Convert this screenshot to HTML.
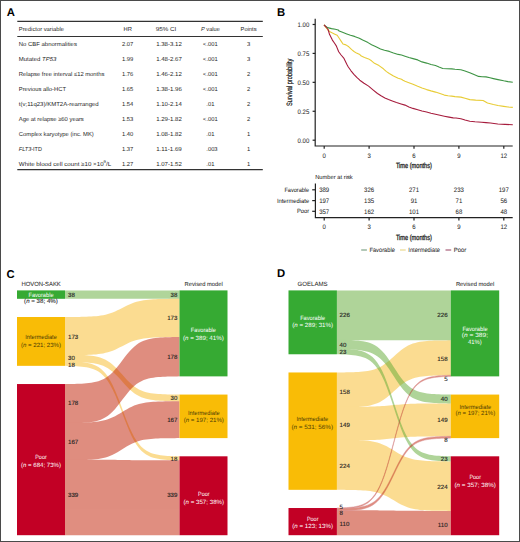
<!DOCTYPE html>
<html><head><meta charset="utf-8"><title>Figure</title>
<style>
html,body{margin:0;padding:0;background:#fff;}
body{width:520px;height:542px;overflow:hidden;position:relative;font-family:"Liberation Sans", sans-serif;}
svg{position:absolute;left:0;top:0;display:block;}
svg text{font-family:"Liberation Sans", sans-serif;text-rendering:geometricPrecision;}
.frame{position:absolute;left:0;top:0;width:518px;height:540px;border:1px solid #4a4a4a;border-right-width:1.3px;border-bottom-width:1.4px;box-sizing:content-box;}
</style></head>
<body>
<svg width="520" height="542" viewBox="0 0 520 542">
<text x="6.7" y="15.5" font-size="11.3" text-anchor="start" fill="#000" font-weight="bold">A</text>
<text x="277.0" y="15.7" font-size="11.3" text-anchor="start" fill="#000" font-weight="bold">B</text>
<text x="6.4" y="277.6" font-size="11.3" text-anchor="start" fill="#000" font-weight="bold">C</text>
<text x="277.1" y="277.4" font-size="11.3" text-anchor="start" fill="#000" font-weight="bold">D</text>
<g stroke="#333" stroke-width="1.1">
<line x1="17.3" y1="21.4" x2="262.8" y2="21.4"/>
<line x1="17.3" y1="36.5" x2="262.8" y2="36.5"/>
<line x1="17.3" y1="169.6" x2="262.8" y2="169.6"/>
</g>
<text x="18.8" y="30.7" font-size="5.8" text-anchor="start" fill="#262626" textLength="45.3" lengthAdjust="spacingAndGlyphs">Predictor variable</text>
<text x="127.7" y="30.7" font-size="5.8" text-anchor="middle" fill="#262626">HR</text>
<text x="155.8" y="30.7" font-size="5.8" text-anchor="start" fill="#262626" textLength="20.5" lengthAdjust="spacingAndGlyphs">95% CI</text>
<text x="200.9" y="30.7" font-size="5.8" text-anchor="start" fill="#262626" textLength="19" lengthAdjust="spacingAndGlyphs"><tspan font-style="italic">P</tspan> value</text>
<text x="248.6" y="30.7" font-size="5.8" text-anchor="middle" fill="#262626" textLength="16" lengthAdjust="spacingAndGlyphs">Points</text>
<text x="18.8" y="45.6" font-size="5.8" text-anchor="start" fill="#262626" textLength="58.1" lengthAdjust="spacingAndGlyphs">No CBF abnormalities</text>
<text x="127.6" y="45.6" font-size="5.8" text-anchor="middle" fill="#262626">2.07</text>
<text x="156.2" y="45.6" font-size="5.8" text-anchor="start" fill="#262626" textLength="25.6" lengthAdjust="spacingAndGlyphs">1.38-3.12</text>
<text x="203.1128" y="45.6" font-size="5.8" text-anchor="start" fill="#262626">&lt;.001</text>
<text x="248.5" y="45.6" font-size="5.8" text-anchor="middle" fill="#262626">3</text>
<text x="18.8" y="60.6" font-size="5.8" text-anchor="start" fill="#262626" textLength="37.5" lengthAdjust="spacingAndGlyphs">Mutated <tspan font-style="italic">TP53</tspan></text>
<text x="127.6" y="60.6" font-size="5.8" text-anchor="middle" fill="#262626">1.99</text>
<text x="156.2" y="60.6" font-size="5.8" text-anchor="start" fill="#262626" textLength="25.6" lengthAdjust="spacingAndGlyphs">1.48-2.67</text>
<text x="203.1128" y="60.6" font-size="5.8" text-anchor="start" fill="#262626">&lt;.001</text>
<text x="248.5" y="60.6" font-size="5.8" text-anchor="middle" fill="#262626">3</text>
<text x="18.8" y="75.6" font-size="5.8" text-anchor="start" fill="#262626" textLength="85.6" lengthAdjust="spacingAndGlyphs">Relapse free interval &#8804;12 months</text>
<text x="127.6" y="75.6" font-size="5.8" text-anchor="middle" fill="#262626">1.76</text>
<text x="156.2" y="75.6" font-size="5.8" text-anchor="start" fill="#262626" textLength="25.6" lengthAdjust="spacingAndGlyphs">1.46-2.12</text>
<text x="203.1128" y="75.6" font-size="5.8" text-anchor="start" fill="#262626">&lt;.001</text>
<text x="248.5" y="75.6" font-size="5.8" text-anchor="middle" fill="#262626">2</text>
<text x="18.8" y="90.6" font-size="5.8" text-anchor="start" fill="#262626" textLength="47.2" lengthAdjust="spacingAndGlyphs">Previous allo-HCT</text>
<text x="127.6" y="90.6" font-size="5.8" text-anchor="middle" fill="#262626">1.65</text>
<text x="156.2" y="90.6" font-size="5.8" text-anchor="start" fill="#262626" textLength="25.6" lengthAdjust="spacingAndGlyphs">1.38-1.96</text>
<text x="203.1128" y="90.6" font-size="5.8" text-anchor="start" fill="#262626">&lt;.001</text>
<text x="248.5" y="90.6" font-size="5.8" text-anchor="middle" fill="#262626">2</text>
<text x="18.8" y="105.6" font-size="5.8" text-anchor="start" fill="#262626" textLength="79.9" lengthAdjust="spacingAndGlyphs">t(v;11q23)/KMT2A-rearranged</text>
<text x="127.6" y="105.6" font-size="5.8" text-anchor="middle" fill="#262626">1.54</text>
<text x="156.2" y="105.6" font-size="5.8" text-anchor="start" fill="#262626" textLength="25.6" lengthAdjust="spacingAndGlyphs">1.10-2.14</text>
<text x="206.3" y="105.6" font-size="5.8" text-anchor="start" fill="#262626">.01</text>
<text x="248.5" y="105.6" font-size="5.8" text-anchor="middle" fill="#262626">2</text>
<text x="18.8" y="120.6" font-size="5.8" text-anchor="start" fill="#262626" textLength="65" lengthAdjust="spacingAndGlyphs">Age at relapse &#8805;60 years</text>
<text x="127.6" y="120.6" font-size="5.8" text-anchor="middle" fill="#262626">1.53</text>
<text x="156.2" y="120.6" font-size="5.8" text-anchor="start" fill="#262626" textLength="25.6" lengthAdjust="spacingAndGlyphs">1.29-1.82</text>
<text x="203.1128" y="120.6" font-size="5.8" text-anchor="start" fill="#262626">&lt;.001</text>
<text x="248.5" y="120.6" font-size="5.8" text-anchor="middle" fill="#262626">2</text>
<text x="18.8" y="135.6" font-size="5.8" text-anchor="start" fill="#262626" textLength="75" lengthAdjust="spacingAndGlyphs">Complex karyotype (inc. MK)</text>
<text x="127.6" y="135.6" font-size="5.8" text-anchor="middle" fill="#262626">1.40</text>
<text x="156.2" y="135.6" font-size="5.8" text-anchor="start" fill="#262626" textLength="25.6" lengthAdjust="spacingAndGlyphs">1.08-1.82</text>
<text x="206.3" y="135.6" font-size="5.8" text-anchor="start" fill="#262626">.01</text>
<text x="248.5" y="135.6" font-size="5.8" text-anchor="middle" fill="#262626">1</text>
<text x="18.8" y="150.6" font-size="5.8" text-anchor="start" fill="#262626" textLength="23.1" lengthAdjust="spacingAndGlyphs"><tspan font-style="italic">FLT3</tspan>-ITD</text>
<text x="127.6" y="150.6" font-size="5.8" text-anchor="middle" fill="#262626">1.37</text>
<text x="156.2" y="150.6" font-size="5.8" text-anchor="start" fill="#262626" textLength="25.6" lengthAdjust="spacingAndGlyphs">1.11-1.69</text>
<text x="206.3" y="150.6" font-size="5.8" text-anchor="start" fill="#262626">.003</text>
<text x="248.5" y="150.6" font-size="5.8" text-anchor="middle" fill="#262626">1</text>
<text x="18.8" y="165.6" font-size="5.8" text-anchor="start" fill="#262626" textLength="92.4" lengthAdjust="spacingAndGlyphs">White blood cell count &#8805;10 &#215;10<tspan font-size="4" dy="-2.2">9</tspan><tspan dy="2.2">/L</tspan></text>
<text x="127.6" y="165.6" font-size="5.8" text-anchor="middle" fill="#262626">1.27</text>
<text x="156.2" y="165.6" font-size="5.8" text-anchor="start" fill="#262626" textLength="25.6" lengthAdjust="spacingAndGlyphs">1.07-1.52</text>
<text x="206.3" y="165.6" font-size="5.8" text-anchor="start" fill="#262626">.01</text>
<text x="248.5" y="165.6" font-size="5.8" text-anchor="middle" fill="#262626">1</text>
<g stroke="#222" stroke-width="1.2" fill="none">
<polyline points="315.2,18.8 315.2,146 512.7,146"/>
<line x1="312.6" y1="140.20" x2="315.2" y2="140.20"/>
<line x1="312.6" y1="111.27" x2="315.2" y2="111.27"/>
<line x1="312.6" y1="82.34" x2="315.2" y2="82.34"/>
<line x1="312.6" y1="53.41" x2="315.2" y2="53.41"/>
<line x1="312.6" y1="24.48" x2="315.2" y2="24.48"/>
<line x1="324.20" y1="146" x2="324.20" y2="148.8"/>
<line x1="369.10" y1="146" x2="369.10" y2="148.8"/>
<line x1="414.00" y1="146" x2="414.00" y2="148.8"/>
<line x1="458.90" y1="146" x2="458.90" y2="148.8"/>
<line x1="503.80" y1="146" x2="503.80" y2="148.8"/>
</g>
<text x="309.3" y="142.5" font-size="6.5" text-anchor="end" fill="#262626" textLength="11.76" lengthAdjust="spacingAndGlyphs" stroke="#262626" stroke-width="0.04">0.00</text>
<text x="309.3" y="113.56999999999998" font-size="6.5" text-anchor="end" fill="#262626" textLength="11.76" lengthAdjust="spacingAndGlyphs" stroke="#262626" stroke-width="0.04">0.25</text>
<text x="309.3" y="84.63999999999999" font-size="6.5" text-anchor="end" fill="#262626" textLength="11.76" lengthAdjust="spacingAndGlyphs" stroke="#262626" stroke-width="0.04">0.50</text>
<text x="309.3" y="55.709999999999994" font-size="6.5" text-anchor="end" fill="#262626" textLength="11.76" lengthAdjust="spacingAndGlyphs" stroke="#262626" stroke-width="0.04">0.75</text>
<text x="309.3" y="26.77999999999999" font-size="6.5" text-anchor="end" fill="#262626" textLength="11.76" lengthAdjust="spacingAndGlyphs" stroke="#262626" stroke-width="0.04">1.00</text>
<text x="324.2" y="157.8" font-size="6.5" text-anchor="middle" fill="#262626" textLength="3.36" lengthAdjust="spacingAndGlyphs" stroke="#262626" stroke-width="0.04">0</text>
<text x="369.09999999999997" y="157.8" font-size="6.5" text-anchor="middle" fill="#262626" textLength="3.36" lengthAdjust="spacingAndGlyphs" stroke="#262626" stroke-width="0.04">3</text>
<text x="414.0" y="157.8" font-size="6.5" text-anchor="middle" fill="#262626" textLength="3.36" lengthAdjust="spacingAndGlyphs" stroke="#262626" stroke-width="0.04">6</text>
<text x="458.9" y="157.8" font-size="6.5" text-anchor="middle" fill="#262626" textLength="3.36" lengthAdjust="spacingAndGlyphs" stroke="#262626" stroke-width="0.04">9</text>
<text x="503.79999999999995" y="157.8" font-size="6.5" text-anchor="middle" fill="#262626" textLength="6.72" lengthAdjust="spacingAndGlyphs" stroke="#262626" stroke-width="0.04">12</text>
<text x="0" y="0" font-size="7.7" fill="#1a1a1a" stroke="#1a1a1a" stroke-width="0.25" text-anchor="middle" textLength="47.2" lengthAdjust="spacingAndGlyphs" transform="translate(292.0 82.3) rotate(-90)">Survival probability</text>
<text x="413.9" y="168.1" font-size="7.5" text-anchor="middle" fill="#1a1a1a" textLength="36.0" lengthAdjust="spacingAndGlyphs" stroke="#1a1a1a" stroke-width="0.3">Time (months)</text>
<polyline points="324,24.9 327.6,27.6 331.5,28.6 335.3,29.3 338.2,30 339.2,31 342.5,32.3 346.8,33.9 350.5,35.2 354.5,36.4 359.3,38.2 362.7,40.1 368,42.6 371.6,44.8 376,46.8 380.5,48.9 384.5,50.3 389.3,51.4 393.5,52.9 398.2,54.4 401.5,55.0 405,56.2 408.9,57.5 413,58.6 417.7,59.9 422,61.9 426.6,63.1 431,64.5 435.5,65.5 439,67 442.8,68.5 447,68.8 451.7,68.9 455,69.3 460.9,69.8 465,71 469.8,72.7 474,74.5 478.6,76.4 482,76.7 486,76.9 490,77.8 493.4,78.6 498,79.6 503.7,80.8 508,81.6 512.8,82.3" fill="none" stroke="#3e9444" stroke-width="1.1" stroke-linejoin="round"/>
<polyline points="324,24.9 325.5,27 327.5,29.5 329.5,31.5 332,32.8 334.3,33.9 337.2,35.3 339.2,38.2 341.1,41.1 343,44 345.9,44.9 348.8,46.8 351.7,49.6 354,51.5 356.5,53.1 359.8,54.6 361.3,56 364.5,57.5 368.6,58.9 371.5,60.8 374.5,63.3 379,65.6 383.4,68.8 386.5,71.6 389.3,73.5 393.5,76 398.2,78.2 401.5,79.2 403,80.3 405,81.3 408.9,82.7 413,84.2 417.7,86.2 422,87.9 426.6,89.6 431,90.9 435.5,92.1 440,93.6 444.3,95.1 448,95.7 451.7,96.1 455,96.6 460.9,97.1 465,98.3 469.8,99.6 475.7,100.1 483.1,100.5 487.5,103 493.4,104.5 498,105.5 503.7,106.4 508,107 512.8,107.4" fill="none" stroke="#e8cc36" stroke-width="1.1" stroke-linejoin="round"/>
<polyline points="324,24.9 326,27 328.1,29.5 329.5,34.3 331,37.2 332.4,40.1 334.4,43 336.3,45.9 338.7,51.7 341.1,55 344,58.4 346.8,64.2 348.3,67 351,70.8 353.9,74.3 356.8,77.4 359.8,80.2 364,83.3 368.6,86.1 373,89.8 377.5,93.5 381,95.8 384.9,97.9 388.5,99.5 392.3,100.9 396.5,102.4 401.1,103.9 405,105.1 408.9,106.9 413,108.4 417.7,109.8 422,111 426.6,112 431,113.2 435.5,114.3 440,115.3 444.3,116.2 449,117.1 453.2,117.9 456,118 460.9,118.8 465,120 469.8,121.2 475,121.8 481.6,122.2 486,122.6 490.5,123 494,123.5 497.8,124 505,124.4 512.8,124.7" fill="none" stroke="#a61c3d" stroke-width="1.1" stroke-linejoin="round"/>
<text x="315.2" y="178.8" font-size="5.8" text-anchor="start" fill="#262626" textLength="37.5" lengthAdjust="spacingAndGlyphs" stroke="#262626" stroke-width="0.04">Number at risk</text>
<g stroke="#222" stroke-width="1.2" fill="none">
<polyline points="315.4,183.5 315.4,217.7 512.7,217.7"/>
<line x1="312.2" y1="189.8" x2="315.4" y2="189.8"/>
<line x1="312.2" y1="200.6" x2="315.4" y2="200.6"/>
<line x1="312.2" y1="211.3" x2="315.4" y2="211.3"/>
<line x1="324.20" y1="217.7" x2="324.20" y2="220.6"/>
<line x1="369.10" y1="217.7" x2="369.10" y2="220.6"/>
<line x1="414.00" y1="217.7" x2="414.00" y2="220.6"/>
<line x1="458.90" y1="217.7" x2="458.90" y2="220.6"/>
<line x1="503.80" y1="217.7" x2="503.80" y2="220.6"/>
</g>
<text x="309.2" y="191.9" font-size="6.2" text-anchor="end" fill="#262626" textLength="24.8" lengthAdjust="spacingAndGlyphs" stroke="#262626" stroke-width="0.04">Favorable</text>
<text x="309.2" y="202.7" font-size="6.2" text-anchor="end" fill="#262626" textLength="32.3" lengthAdjust="spacingAndGlyphs" stroke="#262626" stroke-width="0.04">Intermediate</text>
<text x="309.2" y="213.4" font-size="6.2" text-anchor="end" fill="#262626" textLength="12.3" lengthAdjust="spacingAndGlyphs" stroke="#262626" stroke-width="0.04">Poor</text>
<text x="324.2" y="192.20000000000002" font-size="6.5" text-anchor="middle" fill="#262626" textLength="10.08" lengthAdjust="spacingAndGlyphs" stroke="#262626" stroke-width="0.04">389</text>
<text x="369.09999999999997" y="192.20000000000002" font-size="6.5" text-anchor="middle" fill="#262626" textLength="10.08" lengthAdjust="spacingAndGlyphs" stroke="#262626" stroke-width="0.04">326</text>
<text x="414.0" y="192.20000000000002" font-size="6.5" text-anchor="middle" fill="#262626" textLength="10.08" lengthAdjust="spacingAndGlyphs" stroke="#262626" stroke-width="0.04">271</text>
<text x="458.9" y="192.20000000000002" font-size="6.5" text-anchor="middle" fill="#262626" textLength="10.08" lengthAdjust="spacingAndGlyphs" stroke="#262626" stroke-width="0.04">233</text>
<text x="503.79999999999995" y="192.20000000000002" font-size="6.5" text-anchor="middle" fill="#262626" textLength="10.08" lengthAdjust="spacingAndGlyphs" stroke="#262626" stroke-width="0.04">197</text>
<text x="324.2" y="203.0" font-size="6.5" text-anchor="middle" fill="#262626" textLength="10.08" lengthAdjust="spacingAndGlyphs" stroke="#262626" stroke-width="0.04">197</text>
<text x="369.09999999999997" y="203.0" font-size="6.5" text-anchor="middle" fill="#262626" textLength="10.08" lengthAdjust="spacingAndGlyphs" stroke="#262626" stroke-width="0.04">135</text>
<text x="414.0" y="203.0" font-size="6.5" text-anchor="middle" fill="#262626" textLength="6.72" lengthAdjust="spacingAndGlyphs" stroke="#262626" stroke-width="0.04">91</text>
<text x="458.9" y="203.0" font-size="6.5" text-anchor="middle" fill="#262626" textLength="6.72" lengthAdjust="spacingAndGlyphs" stroke="#262626" stroke-width="0.04">71</text>
<text x="503.79999999999995" y="203.0" font-size="6.5" text-anchor="middle" fill="#262626" textLength="6.72" lengthAdjust="spacingAndGlyphs" stroke="#262626" stroke-width="0.04">56</text>
<text x="324.2" y="213.70000000000002" font-size="6.5" text-anchor="middle" fill="#262626" textLength="10.08" lengthAdjust="spacingAndGlyphs" stroke="#262626" stroke-width="0.04">357</text>
<text x="369.09999999999997" y="213.70000000000002" font-size="6.5" text-anchor="middle" fill="#262626" textLength="10.08" lengthAdjust="spacingAndGlyphs" stroke="#262626" stroke-width="0.04">162</text>
<text x="414.0" y="213.70000000000002" font-size="6.5" text-anchor="middle" fill="#262626" textLength="10.08" lengthAdjust="spacingAndGlyphs" stroke="#262626" stroke-width="0.04">101</text>
<text x="458.9" y="213.70000000000002" font-size="6.5" text-anchor="middle" fill="#262626" textLength="6.72" lengthAdjust="spacingAndGlyphs" stroke="#262626" stroke-width="0.04">68</text>
<text x="503.79999999999995" y="213.70000000000002" font-size="6.5" text-anchor="middle" fill="#262626" textLength="6.72" lengthAdjust="spacingAndGlyphs" stroke="#262626" stroke-width="0.04">48</text>
<text x="324.2" y="229.1" font-size="6.5" text-anchor="middle" fill="#262626" textLength="3.36" lengthAdjust="spacingAndGlyphs" stroke="#262626" stroke-width="0.04">0</text>
<text x="369.09999999999997" y="229.1" font-size="6.5" text-anchor="middle" fill="#262626" textLength="3.36" lengthAdjust="spacingAndGlyphs" stroke="#262626" stroke-width="0.04">3</text>
<text x="414.0" y="229.1" font-size="6.5" text-anchor="middle" fill="#262626" textLength="3.36" lengthAdjust="spacingAndGlyphs" stroke="#262626" stroke-width="0.04">6</text>
<text x="458.9" y="229.1" font-size="6.5" text-anchor="middle" fill="#262626" textLength="3.36" lengthAdjust="spacingAndGlyphs" stroke="#262626" stroke-width="0.04">9</text>
<text x="503.79999999999995" y="229.1" font-size="6.5" text-anchor="middle" fill="#262626" textLength="6.72" lengthAdjust="spacingAndGlyphs" stroke="#262626" stroke-width="0.04">12</text>
<text x="413.9" y="240.0" font-size="7.5" text-anchor="middle" fill="#1a1a1a" textLength="36.0" lengthAdjust="spacingAndGlyphs" stroke="#1a1a1a" stroke-width="0.3">Time (months)</text>
<line x1="361.2" y1="250.0" x2="366.9" y2="250.0" stroke="#7fa488" stroke-width="1.2"/>
<text x="369.4" y="251.8" font-size="6.3" text-anchor="start" fill="#262626" textLength="25.5" lengthAdjust="spacingAndGlyphs" stroke="#262626" stroke-width="0.04">Favorable</text>
<line x1="400.0" y1="250.0" x2="405.7" y2="250.0" stroke="#ead98e" stroke-width="1.2"/>
<text x="408.3" y="251.8" font-size="6.3" text-anchor="start" fill="#262626" textLength="31.7" lengthAdjust="spacingAndGlyphs" stroke="#262626" stroke-width="0.04">Intermediate</text>
<line x1="445.5" y1="250.0" x2="451.2" y2="250.0" stroke="#a8607a" stroke-width="1.2"/>
<text x="453.8" y="251.8" font-size="6.3" text-anchor="start" fill="#262626" textLength="12.5" lengthAdjust="spacingAndGlyphs" stroke="#262626" stroke-width="0.04">Poor</text>
<g opacity="0.5">
<path d="M65.00,290.40 L67.39,290.40 L69.77,290.40 L72.16,290.40 L74.54,290.40 L76.93,290.40 L79.31,290.40 L81.70,290.40 L84.08,290.40 L86.47,290.40 L88.85,290.40 L91.24,290.40 L93.62,290.40 L96.01,290.40 L98.40,290.40 L100.78,290.40 L103.17,290.40 L105.55,290.40 L107.94,290.40 L110.32,290.40 L112.71,290.40 L115.09,290.40 L117.48,290.40 L119.86,290.40 L122.25,290.40 L124.64,290.40 L127.02,290.40 L129.41,290.40 L131.79,290.40 L134.18,290.40 L136.56,290.40 L138.95,290.40 L141.33,290.40 L143.72,290.40 L146.10,290.40 L148.49,290.40 L150.88,290.40 L153.26,290.40 L155.65,290.40 L158.03,290.40 L160.42,290.40 L162.80,290.40 L165.19,290.40 L167.57,290.40 L169.96,290.40 L172.34,290.40 L174.73,290.40 L177.11,290.40 L179.50,290.40 L179.50,298.80 L177.11,298.80 L174.73,298.80 L172.34,298.80 L169.96,298.80 L167.57,298.80 L165.19,298.80 L162.80,298.80 L160.42,298.80 L158.03,298.80 L155.65,298.80 L153.26,298.80 L150.88,298.80 L148.49,298.80 L146.10,298.80 L143.72,298.80 L141.33,298.80 L138.95,298.80 L136.56,298.80 L134.18,298.80 L131.79,298.80 L129.41,298.80 L127.02,298.80 L124.64,298.80 L122.25,298.80 L119.86,298.80 L117.48,298.80 L115.09,298.80 L112.71,298.80 L110.32,298.80 L107.94,298.80 L105.55,298.80 L103.17,298.80 L100.78,298.80 L98.40,298.80 L96.01,298.80 L93.62,298.80 L91.24,298.80 L88.85,298.80 L86.47,298.80 L84.08,298.80 L81.70,298.80 L79.31,298.80 L76.93,298.80 L74.54,298.80 L72.16,298.80 L69.77,298.80 L67.39,298.80 L65.00,298.80 Z" fill="rgb(97,171,53)"/>
</g>
<g opacity="0.5">
<path d="M65.00,317.00 L67.39,316.99 L69.77,316.98 L72.16,316.96 L74.54,316.94 L76.93,316.92 L79.31,316.89 L81.70,316.84 L84.08,316.79 L86.47,316.72 L88.85,316.62 L91.24,316.50 L93.62,316.34 L96.01,316.14 L98.40,315.88 L100.78,315.56 L103.17,315.15 L105.55,314.64 L107.94,314.02 L110.32,313.28 L112.71,312.41 L115.09,311.41 L117.48,310.31 L119.86,309.13 L122.25,307.90 L124.64,306.67 L127.02,305.48 L129.41,304.38 L131.79,303.39 L134.18,302.52 L136.56,301.77 L138.95,301.15 L141.33,300.65 L143.72,300.24 L146.10,299.91 L148.49,299.65 L150.88,299.45 L153.26,299.29 L155.65,299.17 L158.03,299.08 L160.42,299.01 L162.80,298.95 L165.19,298.91 L167.57,298.88 L169.96,298.85 L172.34,298.83 L174.73,298.82 L177.11,298.81 L179.50,298.80 L179.50,337.03 L177.11,337.04 L174.73,337.05 L172.34,337.07 L169.96,337.08 L167.57,337.11 L165.19,337.14 L162.80,337.18 L160.42,337.24 L158.03,337.31 L155.65,337.41 L153.26,337.53 L150.88,337.68 L148.49,337.89 L146.10,338.14 L143.72,338.47 L141.33,338.88 L138.95,339.39 L136.56,340.01 L134.18,340.75 L131.79,341.62 L129.41,342.61 L127.02,343.72 L124.64,344.90 L122.25,346.13 L119.86,347.36 L117.48,348.54 L115.09,349.65 L112.71,350.64 L110.32,351.51 L107.94,352.26 L105.55,352.87 L103.17,353.38 L100.78,353.79 L98.40,354.12 L96.01,354.38 L93.62,354.58 L91.24,354.73 L88.85,354.86 L86.47,354.95 L84.08,355.02 L81.70,355.08 L79.31,355.12 L76.93,355.15 L74.54,355.18 L72.16,355.20 L69.77,355.21 L67.39,355.22 L65.00,355.23 Z" fill="rgb(249,187,37)"/>
<path d="M65.00,354.63 L67.39,354.65 L69.77,354.67 L72.16,354.71 L74.54,354.75 L76.93,354.80 L79.31,354.87 L81.70,354.97 L84.08,355.09 L86.47,355.25 L88.85,355.45 L91.24,355.72 L93.62,356.07 L96.01,356.51 L98.40,357.07 L100.78,357.79 L103.17,358.69 L105.55,359.80 L107.94,361.16 L110.32,362.79 L112.71,364.70 L115.09,366.88 L117.48,369.30 L119.86,371.90 L122.25,374.60 L124.64,377.30 L127.02,379.90 L129.41,382.32 L131.79,384.50 L134.18,386.41 L136.56,388.04 L138.95,389.40 L141.33,390.51 L143.72,391.41 L146.10,392.13 L148.49,392.69 L150.88,393.13 L153.26,393.48 L155.65,393.75 L158.03,393.95 L160.42,394.11 L162.80,394.23 L165.19,394.33 L167.57,394.40 L169.96,394.45 L172.34,394.49 L174.73,394.53 L177.11,394.55 L179.50,394.57 L179.50,401.20 L177.11,401.18 L174.73,401.16 L172.34,401.13 L169.96,401.08 L167.57,401.03 L165.19,400.96 L162.80,400.87 L160.42,400.75 L158.03,400.59 L155.65,400.39 L153.26,400.12 L150.88,399.79 L148.49,399.35 L146.10,398.79 L143.72,398.09 L141.33,397.20 L138.95,396.11 L136.56,394.77 L134.18,393.16 L131.79,391.28 L129.41,389.13 L127.02,386.75 L124.64,384.19 L122.25,381.53 L119.86,378.87 L117.48,376.31 L115.09,373.93 L112.71,371.78 L110.32,369.90 L107.94,368.29 L105.55,366.95 L103.17,365.86 L100.78,364.97 L98.40,364.27 L96.01,363.71 L93.62,363.27 L91.24,362.94 L88.85,362.67 L86.47,362.47 L84.08,362.31 L81.70,362.19 L79.31,362.10 L76.93,362.03 L74.54,361.98 L72.16,361.93 L69.77,361.90 L67.39,361.88 L65.00,361.86 Z" fill="rgb(249,187,37)"/>
<path d="M65.00,361.26 L67.39,361.31 L69.77,361.36 L72.16,361.44 L74.54,361.54 L76.93,361.67 L79.31,361.84 L81.70,362.06 L84.08,362.35 L86.47,362.73 L88.85,363.22 L91.24,363.86 L93.62,364.68 L96.01,365.73 L98.40,367.07 L100.78,368.78 L103.17,370.92 L105.55,373.57 L107.94,376.80 L110.32,380.68 L112.71,385.22 L115.09,390.42 L117.48,396.18 L119.86,402.37 L122.25,408.78 L124.64,415.20 L127.02,421.39 L129.41,427.15 L131.79,432.34 L134.18,436.89 L136.56,440.77 L138.95,444.00 L141.33,446.65 L143.72,448.79 L146.10,450.49 L148.49,451.84 L150.88,452.89 L153.26,453.71 L155.65,454.35 L158.03,454.84 L160.42,455.21 L162.80,455.50 L165.19,455.73 L167.57,455.90 L169.96,456.03 L172.34,456.13 L174.73,456.20 L177.11,456.26 L179.50,456.31 L179.50,460.28 L177.11,460.24 L174.73,460.18 L172.34,460.11 L169.96,460.01 L167.57,459.88 L165.19,459.71 L162.80,459.49 L160.42,459.20 L158.03,458.82 L155.65,458.34 L153.26,457.71 L150.88,456.89 L148.49,455.84 L146.10,454.51 L143.72,452.81 L141.33,450.69 L138.95,448.06 L136.56,444.84 L134.18,440.99 L131.79,436.47 L129.41,431.31 L127.02,425.58 L124.64,419.44 L122.25,413.06 L119.86,406.69 L117.48,400.54 L115.09,394.81 L112.71,389.65 L110.32,385.13 L107.94,381.28 L105.55,378.07 L103.17,375.43 L100.78,373.31 L98.40,371.62 L96.01,370.28 L93.62,369.23 L91.24,368.42 L88.85,367.79 L86.47,367.30 L84.08,366.92 L81.70,366.64 L79.31,366.41 L76.93,366.25 L74.54,366.12 L72.16,366.02 L69.77,365.94 L67.39,365.88 L65.00,365.84 Z" fill="rgb(249,187,37)"/>
</g>
<g opacity="0.5">
<path d="M65.00,384.04 L67.39,384.02 L69.77,383.99 L72.16,383.95 L74.54,383.90 L76.93,383.84 L79.31,383.75 L81.70,383.64 L84.08,383.50 L86.47,383.31 L88.85,383.07 L91.24,382.76 L93.62,382.35 L96.01,381.83 L98.40,381.16 L100.78,380.32 L103.17,379.26 L105.55,377.95 L107.94,376.35 L110.32,374.44 L112.71,372.19 L115.09,369.62 L117.48,366.77 L119.86,363.71 L122.25,360.53 L124.64,357.36 L127.02,354.30 L129.41,351.45 L131.79,348.88 L134.18,346.63 L136.56,344.72 L138.95,343.12 L141.33,341.81 L143.72,340.75 L146.10,339.91 L148.49,339.24 L150.88,338.72 L153.26,338.31 L155.65,338.00 L158.03,337.76 L160.42,337.57 L162.80,337.43 L165.19,337.32 L167.57,337.23 L169.96,337.17 L172.34,337.12 L174.73,337.08 L177.11,337.05 L179.50,337.03 L179.50,376.37 L177.11,376.39 L174.73,376.42 L172.34,376.46 L169.96,376.51 L167.57,376.57 L165.19,376.66 L162.80,376.77 L160.42,376.91 L158.03,377.10 L155.65,377.34 L153.26,377.65 L150.88,378.06 L148.49,378.58 L146.10,379.24 L143.72,380.09 L141.33,381.14 L138.95,382.46 L136.56,384.06 L134.18,385.97 L131.79,388.22 L129.41,390.79 L127.02,393.64 L124.64,396.70 L122.25,399.87 L119.86,403.05 L117.48,406.11 L115.09,408.96 L112.71,411.52 L110.32,413.77 L107.94,415.69 L105.55,417.29 L103.17,418.60 L100.78,419.66 L98.40,420.50 L96.01,421.17 L93.62,421.69 L91.24,422.09 L88.85,422.41 L86.47,422.65 L84.08,422.84 L81.70,422.98 L79.31,423.09 L76.93,423.17 L74.54,423.24 L72.16,423.29 L69.77,423.33 L67.39,423.36 L65.00,423.38 Z" fill="rgb(193,29,1)"/>
<path d="M65.00,422.78 L67.39,422.77 L69.77,422.75 L72.16,422.74 L74.54,422.71 L76.93,422.68 L79.31,422.65 L81.70,422.59 L84.08,422.53 L86.47,422.44 L88.85,422.33 L91.24,422.19 L93.62,422.00 L96.01,421.76 L98.40,421.46 L100.78,421.07 L103.17,420.58 L105.55,419.98 L107.94,419.25 L110.32,418.37 L112.71,417.34 L115.09,416.16 L117.48,414.85 L119.86,413.44 L122.25,411.99 L124.64,410.53 L127.02,409.13 L129.41,407.82 L131.79,406.64 L134.18,405.61 L136.56,404.73 L138.95,403.99 L141.33,403.39 L143.72,402.91 L146.10,402.52 L148.49,402.21 L150.88,401.97 L153.26,401.79 L155.65,401.64 L158.03,401.53 L160.42,401.45 L162.80,401.38 L165.19,401.33 L167.57,401.29 L169.96,401.26 L172.34,401.24 L174.73,401.22 L177.11,401.21 L179.50,401.20 L179.50,438.11 L177.11,438.12 L174.73,438.13 L172.34,438.15 L169.96,438.17 L167.57,438.20 L165.19,438.24 L162.80,438.29 L160.42,438.36 L158.03,438.45 L155.65,438.56 L153.26,438.71 L150.88,438.90 L148.49,439.15 L146.10,439.46 L143.72,439.86 L141.33,440.36 L138.95,440.98 L136.56,441.73 L134.18,442.64 L131.79,443.70 L129.41,444.91 L127.02,446.25 L124.64,447.70 L122.25,449.19 L119.86,450.69 L117.48,452.14 L115.09,453.48 L112.71,454.69 L110.32,455.75 L107.94,456.66 L105.55,457.41 L103.17,458.03 L100.78,458.53 L98.40,458.93 L96.01,459.24 L93.62,459.49 L91.24,459.68 L88.85,459.83 L86.47,459.94 L84.08,460.03 L81.70,460.10 L79.31,460.15 L76.93,460.19 L74.54,460.22 L72.16,460.24 L69.77,460.26 L67.39,460.27 L65.00,460.28 Z" fill="rgb(193,29,1)"/>
<path d="M65.00,459.68 L67.39,459.68 L69.77,459.68 L72.16,459.69 L74.54,459.69 L76.93,459.69 L79.31,459.69 L81.70,459.69 L84.08,459.69 L86.47,459.69 L88.85,459.70 L91.24,459.70 L93.62,459.71 L96.01,459.71 L98.40,459.72 L100.78,459.73 L103.17,459.74 L105.55,459.76 L107.94,459.78 L110.32,459.81 L112.71,459.84 L115.09,459.87 L117.48,459.90 L119.86,459.94 L122.25,459.98 L124.64,460.02 L127.02,460.06 L129.41,460.10 L131.79,460.13 L134.18,460.16 L136.56,460.19 L138.95,460.21 L141.33,460.22 L143.72,460.24 L146.10,460.25 L148.49,460.26 L150.88,460.26 L153.26,460.27 L155.65,460.27 L158.03,460.27 L160.42,460.28 L162.80,460.28 L165.19,460.28 L167.57,460.28 L169.96,460.28 L172.34,460.28 L174.73,460.28 L177.11,460.28 L179.50,460.28 L179.50,535.20 L177.11,535.20 L174.73,535.20 L172.34,535.20 L169.96,535.20 L167.57,535.20 L165.19,535.20 L162.80,535.20 L160.42,535.20 L158.03,535.20 L155.65,535.20 L153.26,535.20 L150.88,535.20 L148.49,535.20 L146.10,535.20 L143.72,535.20 L141.33,535.20 L138.95,535.20 L136.56,535.20 L134.18,535.20 L131.79,535.20 L129.41,535.20 L127.02,535.20 L124.64,535.20 L122.25,535.20 L119.86,535.20 L117.48,535.20 L115.09,535.20 L112.71,535.20 L110.32,535.20 L107.94,535.20 L105.55,535.20 L103.17,535.20 L100.78,535.20 L98.40,535.20 L96.01,535.20 L93.62,535.20 L91.24,535.20 L88.85,535.20 L86.47,535.20 L84.08,535.20 L81.70,535.20 L79.31,535.20 L76.93,535.20 L74.54,535.20 L72.16,535.20 L69.77,535.20 L67.39,535.20 L65.00,535.20 Z" fill="rgb(193,29,1)"/>
</g>
<rect x="17" y="290.40" width="48" height="8.40" fill="#36aa33"/>
<rect x="17" y="317.00" width="48" height="48.84" fill="#f9bc06"/>
<rect x="17" y="384.04" width="48" height="151.16" fill="#c20025"/>
<rect x="179.5" y="290.40" width="48.0" height="85.97" fill="#36aa33"/>
<rect x="179.5" y="394.57" width="48.0" height="43.54" fill="#f9bc06"/>
<rect x="179.5" y="456.31" width="48.0" height="78.90" fill="#c20025"/>
<text x="21.4" y="285.7" font-size="6.0" text-anchor="start" fill="#262626" textLength="39.4" lengthAdjust="spacingAndGlyphs" stroke="#262626" stroke-width="0.04">HOVON-SAKK</text>
<text x="184.6" y="285.7" font-size="5.9" text-anchor="start" fill="#262626" textLength="38.2" lengthAdjust="spacingAndGlyphs" stroke="#262626" stroke-width="0.04">Revised model</text>
<text x="68.0" y="296.95000000000005" font-size="6.15" text-anchor="start" fill="#1e1e1e" stroke="#1e1e1e" stroke-width="0.12">38</text>
<text x="68.0" y="339.25" font-size="6.15" text-anchor="start" fill="#1e1e1e" stroke="#1e1e1e" stroke-width="0.12">173</text>
<text x="68.0" y="360.15000000000003" font-size="6.15" text-anchor="start" fill="#1e1e1e" stroke="#1e1e1e" stroke-width="0.12">30</text>
<text x="68.0" y="366.75" font-size="6.15" text-anchor="start" fill="#1e1e1e" stroke="#1e1e1e" stroke-width="0.12">18</text>
<text x="68.0" y="405.25" font-size="6.15" text-anchor="start" fill="#1e1e1e" stroke="#1e1e1e" stroke-width="0.12">178</text>
<text x="68.0" y="444.45000000000005" font-size="6.15" text-anchor="start" fill="#1e1e1e" stroke="#1e1e1e" stroke-width="0.12">167</text>
<text x="68.0" y="496.95000000000005" font-size="6.15" text-anchor="start" fill="#1e1e1e" stroke="#1e1e1e" stroke-width="0.12">339</text>
<text x="177.4" y="296.55" font-size="6.15" text-anchor="end" fill="#1e1e1e" stroke="#1e1e1e" stroke-width="0.12">38</text>
<text x="177.4" y="320.35" font-size="6.15" text-anchor="end" fill="#1e1e1e" stroke="#1e1e1e" stroke-width="0.12">173</text>
<text x="177.4" y="359.15000000000003" font-size="6.15" text-anchor="end" fill="#1e1e1e" stroke="#1e1e1e" stroke-width="0.12">178</text>
<text x="177.4" y="400.25" font-size="6.15" text-anchor="end" fill="#1e1e1e" stroke="#1e1e1e" stroke-width="0.12">30</text>
<text x="177.4" y="421.85" font-size="6.15" text-anchor="end" fill="#1e1e1e" stroke="#1e1e1e" stroke-width="0.12">167</text>
<text x="177.4" y="460.65000000000003" font-size="6.15" text-anchor="end" fill="#1e1e1e" stroke="#1e1e1e" stroke-width="0.12">18</text>
<text x="177.4" y="497.15000000000003" font-size="6.15" text-anchor="end" fill="#1e1e1e" stroke="#1e1e1e" stroke-width="0.12">339</text>
<text x="41" y="296.7" font-size="6.1" text-anchor="middle" fill="#fff" textLength="25.1" lengthAdjust="spacingAndGlyphs">Favorable</text>
<text x="41" y="303.3" font-size="6.1" text-anchor="middle" fill="#333" textLength="33.8" lengthAdjust="spacingAndGlyphs" stroke="#333" stroke-width="0.12">(<tspan font-style="italic">n</tspan> = 38; 4%)</text>
<text x="41" y="338.9" font-size="6.1" text-anchor="middle" fill="#4f3c05" textLength="31.7" lengthAdjust="spacingAndGlyphs">Intermediate</text>
<text x="41" y="346.7" font-size="6.1" text-anchor="middle" fill="#4f3c05" textLength="40.2" lengthAdjust="spacingAndGlyphs">(<tspan font-style="italic">n</tspan> = 221; 23%)</text>
<text x="41" y="458.8" font-size="6.1" text-anchor="middle" fill="#fff" textLength="11.6" lengthAdjust="spacingAndGlyphs">Poor</text>
<text x="41" y="466.9" font-size="6.1" text-anchor="middle" fill="#fff" textLength="40.2" lengthAdjust="spacingAndGlyphs">(<tspan font-style="italic">n</tspan> = 684; 73%)</text>
<text x="203.4" y="332.1" font-size="6.1" text-anchor="middle" fill="#fff" textLength="25.1" lengthAdjust="spacingAndGlyphs">Favorable</text>
<text x="203.4" y="339.8" font-size="6.1" text-anchor="middle" fill="#fff" textLength="41.0" lengthAdjust="spacingAndGlyphs">(<tspan font-style="italic">n</tspan> = 389; 41%)</text>
<text x="203.8" y="415.0" font-size="6.1" text-anchor="middle" fill="#4f3c05" textLength="31.7" lengthAdjust="spacingAndGlyphs">Intermediate</text>
<text x="203.8" y="421.8" font-size="6.1" text-anchor="middle" fill="#4f3c05" textLength="40.1" lengthAdjust="spacingAndGlyphs">(<tspan font-style="italic">n</tspan> = 197; 21%)</text>
<text x="203.8" y="495.7" font-size="6.1" text-anchor="middle" fill="#fff" textLength="11.6" lengthAdjust="spacingAndGlyphs">Poor</text>
<text x="203.8" y="504.2" font-size="6.1" text-anchor="middle" fill="#fff" textLength="40.7" lengthAdjust="spacingAndGlyphs">(<tspan font-style="italic">n</tspan> = 357; 38%)</text>
<g opacity="0.5">
<path d="M336.90,372.47 L339.27,372.45 L341.65,372.43 L344.02,372.41 L346.39,372.37 L348.76,372.33 L351.14,372.27 L353.51,372.20 L355.88,372.10 L358.26,371.97 L360.63,371.81 L363.00,371.59 L365.38,371.31 L367.75,370.96 L370.12,370.50 L372.49,369.93 L374.87,369.21 L377.24,368.31 L379.61,367.22 L381.99,365.91 L384.36,364.37 L386.73,362.61 L389.10,360.67 L391.48,358.58 L393.85,356.41 L396.22,354.24 L398.60,352.15 L400.97,350.20 L403.34,348.45 L405.71,346.91 L408.09,345.60 L410.46,344.50 L412.83,343.61 L415.21,342.89 L417.58,342.31 L419.95,341.86 L422.32,341.50 L424.70,341.22 L427.07,341.01 L429.44,340.84 L431.82,340.71 L434.19,340.62 L436.56,340.54 L438.94,340.48 L441.31,340.44 L443.68,340.41 L446.05,340.38 L448.43,340.36 L450.80,340.35 L450.80,375.26 L448.43,375.28 L446.05,375.30 L443.68,375.32 L441.31,375.36 L438.94,375.40 L436.56,375.46 L434.19,375.53 L431.82,375.63 L429.44,375.76 L427.07,375.93 L424.70,376.14 L422.32,376.42 L419.95,376.77 L417.58,377.23 L415.21,377.80 L412.83,378.53 L410.46,379.42 L408.09,380.52 L405.71,381.83 L403.34,383.36 L400.97,385.12 L398.60,387.07 L396.22,389.16 L393.85,391.33 L391.48,393.49 L389.10,395.58 L386.73,397.53 L384.36,399.29 L381.99,400.82 L379.61,402.13 L377.24,403.23 L374.87,404.12 L372.49,404.85 L370.12,405.42 L367.75,405.88 L365.38,406.23 L363.00,406.51 L360.63,406.72 L358.26,406.89 L355.88,407.02 L353.51,407.12 L351.14,407.19 L348.76,407.25 L346.39,407.29 L344.02,407.33 L341.65,407.35 L339.27,407.37 L336.90,407.39 Z" fill="rgb(249,187,37)"/>
<path d="M336.90,406.79 L339.27,406.79 L341.65,406.78 L344.02,406.78 L346.39,406.78 L348.76,406.77 L351.14,406.77 L353.51,406.76 L355.88,406.75 L358.26,406.73 L360.63,406.72 L363.00,406.69 L365.38,406.67 L367.75,406.63 L370.12,406.58 L372.49,406.52 L374.87,406.44 L377.24,406.35 L379.61,406.23 L381.99,406.10 L384.36,405.94 L386.73,405.75 L389.10,405.55 L391.48,405.33 L393.85,405.10 L396.22,404.87 L398.60,404.65 L400.97,404.45 L403.34,404.26 L405.71,404.10 L408.09,403.96 L410.46,403.85 L412.83,403.75 L415.21,403.68 L417.58,403.62 L419.95,403.57 L422.32,403.53 L424.70,403.50 L427.07,403.48 L429.44,403.46 L431.82,403.45 L434.19,403.44 L436.56,403.43 L438.94,403.42 L441.31,403.42 L443.68,403.42 L446.05,403.41 L448.43,403.41 L450.80,403.41 L450.80,436.34 L448.43,436.34 L446.05,436.34 L443.68,436.35 L441.31,436.35 L438.94,436.36 L436.56,436.36 L434.19,436.37 L431.82,436.38 L429.44,436.40 L427.07,436.42 L424.70,436.45 L422.32,436.48 L419.95,436.53 L417.58,436.58 L415.21,436.65 L412.83,436.74 L410.46,436.85 L408.09,436.99 L405.71,437.15 L403.34,437.34 L400.97,437.56 L398.60,437.80 L396.22,438.06 L393.85,438.33 L391.48,438.60 L389.10,438.85 L386.73,439.10 L384.36,439.31 L381.99,439.50 L379.61,439.67 L377.24,439.80 L374.87,439.91 L372.49,440.00 L370.12,440.07 L367.75,440.13 L365.38,440.17 L363.00,440.21 L360.63,440.23 L358.26,440.25 L355.88,440.27 L353.51,440.28 L351.14,440.29 L348.76,440.30 L346.39,440.30 L344.02,440.31 L341.65,440.31 L339.27,440.31 L336.90,440.32 Z" fill="rgb(249,187,37)"/>
<path d="M336.90,439.72 L339.27,439.73 L341.65,439.74 L344.02,439.76 L346.39,439.78 L348.76,439.81 L351.14,439.85 L353.51,439.90 L355.88,439.96 L358.26,440.05 L360.63,440.16 L363.00,440.31 L365.38,440.49 L367.75,440.73 L370.12,441.04 L372.49,441.43 L374.87,441.92 L377.24,442.52 L379.61,443.26 L381.99,444.14 L384.36,445.18 L386.73,446.36 L389.10,447.68 L391.48,449.09 L393.85,450.55 L396.22,452.02 L398.60,453.43 L400.97,454.74 L403.34,455.92 L405.71,456.96 L408.09,457.85 L410.46,458.58 L412.83,459.19 L415.21,459.67 L417.58,460.06 L419.95,460.37 L422.32,460.61 L424.70,460.80 L427.07,460.94 L429.44,461.05 L431.82,461.14 L434.19,461.21 L436.56,461.26 L438.94,461.30 L441.31,461.33 L443.68,461.35 L446.05,461.37 L448.43,461.38 L450.80,461.39 L450.80,510.89 L448.43,510.88 L446.05,510.87 L443.68,510.85 L441.31,510.83 L438.94,510.80 L436.56,510.76 L434.19,510.72 L431.82,510.65 L429.44,510.57 L427.07,510.46 L424.70,510.32 L422.32,510.14 L419.95,509.90 L417.58,509.60 L415.21,509.23 L412.83,508.75 L410.46,508.16 L408.09,507.45 L405.71,506.59 L403.34,505.58 L400.97,504.43 L398.60,503.15 L396.22,501.78 L393.85,500.36 L391.48,498.93 L389.10,497.56 L386.73,496.28 L384.36,495.13 L381.99,494.13 L379.61,493.27 L377.24,492.55 L374.87,491.96 L372.49,491.49 L370.12,491.11 L367.75,490.81 L365.38,490.58 L363.00,490.40 L360.63,490.25 L358.26,490.15 L355.88,490.06 L353.51,490.00 L351.14,489.95 L348.76,489.91 L346.39,489.88 L344.02,489.86 L341.65,489.84 L339.27,489.83 L336.90,489.82 Z" fill="rgb(249,187,37)"/>
</g>
<g opacity="0.5">
<path d="M336.90,290.40 L339.27,290.40 L341.65,290.40 L344.02,290.40 L346.39,290.40 L348.76,290.40 L351.14,290.40 L353.51,290.40 L355.88,290.40 L358.26,290.40 L360.63,290.40 L363.00,290.40 L365.38,290.40 L367.75,290.40 L370.12,290.40 L372.49,290.40 L374.87,290.40 L377.24,290.40 L379.61,290.40 L381.99,290.40 L384.36,290.40 L386.73,290.40 L389.10,290.40 L391.48,290.40 L393.85,290.40 L396.22,290.40 L398.60,290.40 L400.97,290.40 L403.34,290.40 L405.71,290.40 L408.09,290.40 L410.46,290.40 L412.83,290.40 L415.21,290.40 L417.58,290.40 L419.95,290.40 L422.32,290.40 L424.70,290.40 L427.07,290.40 L429.44,290.40 L431.82,290.40 L434.19,290.40 L436.56,290.40 L438.94,290.40 L441.31,290.40 L443.68,290.40 L446.05,290.40 L448.43,290.40 L450.80,290.40 L450.80,340.35 L448.43,340.35 L446.05,340.35 L443.68,340.35 L441.31,340.35 L438.94,340.35 L436.56,340.35 L434.19,340.35 L431.82,340.35 L429.44,340.35 L427.07,340.35 L424.70,340.35 L422.32,340.35 L419.95,340.35 L417.58,340.35 L415.21,340.35 L412.83,340.35 L410.46,340.35 L408.09,340.35 L405.71,340.35 L403.34,340.35 L400.97,340.35 L398.60,340.35 L396.22,340.35 L393.85,340.35 L391.48,340.35 L389.10,340.35 L386.73,340.35 L384.36,340.35 L381.99,340.35 L379.61,340.35 L377.24,340.35 L374.87,340.35 L372.49,340.35 L370.12,340.35 L367.75,340.35 L365.38,340.35 L363.00,340.35 L360.63,340.35 L358.26,340.35 L355.88,340.35 L353.51,340.35 L351.14,340.35 L348.76,340.35 L346.39,340.35 L344.02,340.35 L341.65,340.35 L339.27,340.35 L336.90,340.35 Z" fill="rgb(97,171,53)"/>
<path d="M336.90,339.75 L339.27,339.77 L341.65,339.81 L344.02,339.85 L346.39,339.91 L348.76,339.98 L351.14,340.08 L353.51,340.21 L355.88,340.38 L358.26,340.59 L360.63,340.88 L363.00,341.24 L365.38,341.72 L367.75,342.32 L370.12,343.10 L372.49,344.08 L374.87,345.32 L377.24,346.84 L379.61,348.71 L381.99,350.95 L384.36,353.57 L386.73,356.56 L389.10,359.89 L391.48,363.46 L393.85,367.16 L396.22,370.86 L398.60,374.43 L400.97,377.75 L403.34,380.75 L405.71,383.37 L408.09,385.61 L410.46,387.47 L412.83,389.00 L415.21,390.23 L417.58,391.22 L419.95,391.99 L422.32,392.60 L424.70,393.07 L427.07,393.44 L429.44,393.72 L431.82,393.94 L434.19,394.11 L436.56,394.23 L438.94,394.33 L441.31,394.41 L443.68,394.47 L446.05,394.51 L448.43,394.54 L450.80,394.57 L450.80,403.41 L448.43,403.38 L446.05,403.35 L443.68,403.31 L441.31,403.25 L438.94,403.18 L436.56,403.08 L434.19,402.95 L431.82,402.79 L429.44,402.57 L427.07,402.29 L424.70,401.93 L422.32,401.46 L419.95,400.86 L417.58,400.09 L415.21,399.12 L412.83,397.90 L410.46,396.39 L408.09,394.54 L405.71,392.33 L403.34,389.74 L400.97,386.77 L398.60,383.49 L396.22,379.96 L393.85,376.30 L391.48,372.64 L389.10,369.11 L386.73,365.82 L384.36,362.86 L381.99,360.26 L379.61,358.05 L377.24,356.21 L374.87,354.69 L372.49,353.47 L370.12,352.50 L367.75,351.74 L365.38,351.13 L363.00,350.67 L360.63,350.30 L358.26,350.02 L355.88,349.81 L353.51,349.64 L351.14,349.52 L348.76,349.42 L346.39,349.34 L344.02,349.29 L341.65,349.24 L339.27,349.21 L336.90,349.19 Z" fill="rgb(97,171,53)"/>
<path d="M336.90,348.59 L339.27,348.64 L341.65,348.70 L344.02,348.79 L346.39,348.90 L348.76,349.05 L351.14,349.24 L353.51,349.49 L355.88,349.82 L358.26,350.25 L360.63,350.81 L363.00,351.53 L365.38,352.46 L367.75,353.65 L370.12,355.17 L372.49,357.11 L374.87,359.53 L377.24,362.53 L379.61,366.20 L381.99,370.59 L384.36,375.75 L386.73,381.63 L389.10,388.16 L391.48,395.17 L393.85,402.45 L396.22,409.72 L398.60,416.73 L400.97,423.26 L403.34,429.15 L405.71,434.30 L408.09,438.69 L410.46,442.36 L412.83,445.36 L415.21,447.79 L417.58,449.72 L419.95,451.24 L422.32,452.44 L424.70,453.36 L427.07,454.08 L429.44,454.64 L431.82,455.07 L434.19,455.40 L436.56,455.65 L438.94,455.84 L441.31,455.99 L443.68,456.10 L446.05,456.19 L448.43,456.26 L450.80,456.31 L450.80,461.39 L448.43,461.34 L446.05,461.27 L443.68,461.19 L441.31,461.08 L438.94,460.93 L436.56,460.74 L434.19,460.49 L431.82,460.16 L429.44,459.73 L427.07,459.18 L424.70,458.46 L422.32,457.54 L419.95,456.35 L417.58,454.84 L415.21,452.92 L412.83,450.51 L410.46,447.52 L408.09,443.87 L405.71,439.50 L403.34,434.38 L400.97,428.53 L398.60,422.03 L396.22,415.06 L393.85,407.83 L391.48,400.60 L389.10,393.63 L386.73,387.13 L384.36,381.28 L381.99,376.15 L379.61,371.78 L377.24,368.14 L374.87,365.15 L372.49,362.74 L370.12,360.82 L367.75,359.31 L365.38,358.12 L363.00,357.19 L360.63,356.48 L358.26,355.93 L355.88,355.50 L353.51,355.17 L351.14,354.92 L348.76,354.73 L346.39,354.58 L344.02,354.47 L341.65,354.38 L339.27,354.32 L336.90,354.27 Z" fill="rgb(97,171,53)"/>
</g>
<g opacity="0.5">
<path d="M336.90,510.29 L339.27,510.29 L341.65,510.29 L344.02,510.29 L346.39,510.29 L348.76,510.30 L351.14,510.30 L353.51,510.30 L355.88,510.30 L358.26,510.30 L360.63,510.31 L363.00,510.31 L365.38,510.31 L367.75,510.32 L370.12,510.33 L372.49,510.34 L374.87,510.35 L377.24,510.37 L379.61,510.39 L381.99,510.42 L384.36,510.44 L386.73,510.48 L389.10,510.51 L391.48,510.55 L393.85,510.59 L396.22,510.63 L398.60,510.67 L400.97,510.71 L403.34,510.74 L405.71,510.77 L408.09,510.79 L410.46,510.82 L412.83,510.83 L415.21,510.85 L417.58,510.86 L419.95,510.86 L422.32,510.87 L424.70,510.88 L427.07,510.88 L429.44,510.88 L431.82,510.89 L434.19,510.89 L436.56,510.89 L438.94,510.89 L441.31,510.89 L443.68,510.89 L446.05,510.89 L448.43,510.89 L450.80,510.89 L450.80,535.20 L448.43,535.20 L446.05,535.20 L443.68,535.20 L441.31,535.20 L438.94,535.20 L436.56,535.20 L434.19,535.20 L431.82,535.20 L429.44,535.20 L427.07,535.20 L424.70,535.20 L422.32,535.20 L419.95,535.20 L417.58,535.20 L415.21,535.20 L412.83,535.20 L410.46,535.20 L408.09,535.20 L405.71,535.20 L403.34,535.20 L400.97,535.20 L398.60,535.20 L396.22,535.20 L393.85,535.20 L391.48,535.20 L389.10,535.20 L386.73,535.20 L384.36,535.20 L381.99,535.20 L379.61,535.20 L377.24,535.20 L374.87,535.20 L372.49,535.20 L370.12,535.20 L367.75,535.20 L365.38,535.20 L363.00,535.20 L360.63,535.20 L358.26,535.20 L355.88,535.20 L353.51,535.20 L351.14,535.20 L348.76,535.20 L346.39,535.20 L344.02,535.20 L341.65,535.20 L339.27,535.20 L336.90,535.20 Z" fill="rgb(193,29,1)"/>
<path d="M336.90,508.02 L339.27,507.96 L341.65,507.88 L344.02,507.77 L346.39,507.63 L348.76,507.45 L351.14,507.21 L353.51,506.90 L355.88,506.50 L358.26,505.97 L360.63,505.28 L363.00,504.39 L365.38,503.25 L367.75,501.78 L370.12,499.90 L372.49,497.52 L374.87,494.53 L377.24,490.83 L379.61,486.31 L381.99,480.90 L384.36,474.55 L386.73,467.29 L389.10,459.25 L391.48,450.60 L393.85,441.64 L396.22,432.68 L398.60,424.04 L400.97,415.99 L403.34,408.74 L405.71,402.39 L408.09,396.97 L410.46,392.45 L412.83,388.75 L415.21,385.76 L417.58,383.38 L419.95,381.51 L422.32,380.03 L424.70,378.89 L427.07,378.00 L429.44,377.32 L431.82,376.79 L434.19,376.38 L436.56,376.07 L438.94,375.84 L441.31,375.65 L443.68,375.51 L446.05,375.41 L448.43,375.33 L450.80,375.26 L450.80,376.37 L448.43,376.43 L446.05,376.51 L443.68,376.62 L441.31,376.76 L438.94,376.94 L436.56,377.18 L434.19,377.49 L431.82,377.89 L429.44,378.42 L427.07,379.11 L424.70,379.99 L422.32,381.14 L419.95,382.61 L417.58,384.49 L415.21,386.87 L412.83,389.86 L410.46,393.56 L408.09,398.08 L405.71,403.49 L403.34,409.84 L400.97,417.10 L398.60,425.14 L396.22,433.79 L393.85,442.75 L391.48,451.71 L389.10,460.35 L386.73,468.40 L384.36,475.65 L381.99,482.00 L379.61,487.42 L377.24,491.94 L374.87,495.64 L372.49,498.62 L370.12,501.00 L367.75,502.88 L365.38,504.35 L363.00,505.50 L360.63,506.39 L358.26,507.07 L355.88,507.60 L353.51,508.01 L351.14,508.32 L348.76,508.55 L346.39,508.74 L344.02,508.88 L341.65,508.98 L339.27,509.06 L336.90,509.12 Z" fill="rgb(193,29,1)" stroke="#b3242c" stroke-width="0.5"/>
<path d="M336.90,508.52 L339.27,508.49 L341.65,508.45 L344.02,508.39 L346.39,508.31 L348.76,508.21 L351.14,508.09 L353.51,507.92 L355.88,507.70 L358.26,507.41 L360.63,507.04 L363.00,506.55 L365.38,505.93 L367.75,505.13 L370.12,504.11 L372.49,502.82 L374.87,501.19 L377.24,499.18 L379.61,496.72 L381.99,493.78 L384.36,490.32 L386.73,486.38 L389.10,482.00 L391.48,477.30 L393.85,472.43 L396.22,467.56 L398.60,462.86 L400.97,458.48 L403.34,454.54 L405.71,451.09 L408.09,448.14 L410.46,445.68 L412.83,443.67 L415.21,442.05 L417.58,440.75 L419.95,439.73 L422.32,438.93 L424.70,438.31 L427.07,437.83 L429.44,437.45 L431.82,437.17 L434.19,436.95 L436.56,436.78 L438.94,436.65 L441.31,436.55 L443.68,436.47 L446.05,436.42 L448.43,436.37 L450.80,436.34 L450.80,438.11 L448.43,438.14 L446.05,438.18 L443.68,438.24 L441.31,438.32 L438.94,438.42 L436.56,438.55 L434.19,438.72 L431.82,438.94 L429.44,439.23 L427.07,439.61 L424.70,440.09 L422.32,440.72 L419.95,441.53 L417.58,442.56 L415.21,443.86 L412.83,445.50 L410.46,447.53 L408.09,450.01 L405.71,452.98 L403.34,456.46 L400.97,460.44 L398.60,464.85 L396.22,469.59 L393.85,474.50 L391.48,479.41 L389.10,484.15 L386.73,488.56 L384.36,492.54 L381.99,496.02 L379.61,498.99 L377.24,501.47 L374.87,503.50 L372.49,505.14 L370.12,506.44 L367.75,507.47 L365.38,508.28 L363.00,508.91 L360.63,509.39 L358.26,509.77 L355.88,510.06 L353.51,510.28 L351.14,510.45 L348.76,510.58 L346.39,510.68 L344.02,510.76 L341.65,510.81 L339.27,510.86 L336.90,510.89 Z" fill="rgb(193,29,1)" stroke="#b3242c" stroke-width="0.5"/>
</g>
<rect x="288.5" y="290.40" width="48.39999999999998" height="63.87" fill="#36aa33"/>
<rect x="288.5" y="372.47" width="48.39999999999998" height="117.35" fill="#f9bc06"/>
<rect x="288.5" y="508.02" width="48.39999999999998" height="27.18" fill="#c20025"/>
<rect x="450.8" y="290.40" width="48.39999999999998" height="85.97" fill="#36aa33"/>
<rect x="450.8" y="394.57" width="48.39999999999998" height="43.54" fill="#f9bc06"/>
<rect x="450.8" y="456.31" width="48.39999999999998" height="78.90" fill="#c20025"/>
<text x="297.5" y="285.6" font-size="6.2" text-anchor="start" fill="#262626" textLength="30.2" lengthAdjust="spacingAndGlyphs" stroke="#262626" stroke-width="0.04">GOELAMS</text>
<text x="455.9" y="285.6" font-size="5.9" text-anchor="start" fill="#262626" textLength="38.4" lengthAdjust="spacingAndGlyphs" stroke="#262626" stroke-width="0.04">Revised model</text>
<text x="339.6" y="316.75" font-size="6.15" text-anchor="start" fill="#1e1e1e" stroke="#1e1e1e" stroke-width="0.12">226</text>
<text x="339.6" y="346.95000000000005" font-size="6.15" text-anchor="start" fill="#1e1e1e" stroke="#1e1e1e" stroke-width="0.12">40</text>
<text x="339.6" y="354.25" font-size="6.15" text-anchor="start" fill="#1e1e1e" stroke="#1e1e1e" stroke-width="0.12">23</text>
<text x="339.6" y="393.85" font-size="6.15" text-anchor="start" fill="#1e1e1e" stroke="#1e1e1e" stroke-width="0.12">158</text>
<text x="339.6" y="426.95000000000005" font-size="6.15" text-anchor="start" fill="#1e1e1e" stroke="#1e1e1e" stroke-width="0.12">149</text>
<text x="339.6" y="468.35" font-size="6.15" text-anchor="start" fill="#1e1e1e" stroke="#1e1e1e" stroke-width="0.12">224</text>
<text x="339.6" y="508.55" font-size="6.15" text-anchor="start" fill="#1e1e1e" stroke="#1e1e1e" stroke-width="0.12">5</text>
<text x="339.6" y="514.65" font-size="6.15" text-anchor="start" fill="#1e1e1e" stroke="#1e1e1e" stroke-width="0.12">8</text>
<text x="339.6" y="526.15" font-size="6.15" text-anchor="start" fill="#1e1e1e" stroke="#1e1e1e" stroke-width="0.12">110</text>
<text x="447.6" y="316.75" font-size="6.15" text-anchor="end" fill="#1e1e1e" stroke="#1e1e1e" stroke-width="0.12">226</text>
<text x="447.6" y="361.05" font-size="6.15" text-anchor="end" fill="#1e1e1e" stroke="#1e1e1e" stroke-width="0.12">158</text>
<text x="447.6" y="380.75" font-size="6.15" text-anchor="end" fill="#1e1e1e" stroke="#1e1e1e" stroke-width="0.12">5</text>
<text x="447.6" y="401.25" font-size="6.15" text-anchor="end" fill="#1e1e1e" stroke="#1e1e1e" stroke-width="0.12">40</text>
<text x="447.6" y="421.85" font-size="6.15" text-anchor="end" fill="#1e1e1e" stroke="#1e1e1e" stroke-width="0.12">149</text>
<text x="447.6" y="442.15000000000003" font-size="6.15" text-anchor="end" fill="#1e1e1e" stroke="#1e1e1e" stroke-width="0.12">8</text>
<text x="447.6" y="460.95000000000005" font-size="6.15" text-anchor="end" fill="#1e1e1e" stroke="#1e1e1e" stroke-width="0.12">23</text>
<text x="447.6" y="488.55" font-size="6.15" text-anchor="end" fill="#1e1e1e" stroke="#1e1e1e" stroke-width="0.12">224</text>
<text x="447.6" y="527.35" font-size="6.15" text-anchor="end" fill="#1e1e1e" stroke="#1e1e1e" stroke-width="0.12">110</text>
<text x="312.7" y="319.9" font-size="6.1" text-anchor="middle" fill="#fff" textLength="25.1" lengthAdjust="spacingAndGlyphs">Favorable</text>
<text x="312.7" y="327.2" font-size="6.1" text-anchor="middle" fill="#fff" textLength="40.9" lengthAdjust="spacingAndGlyphs">(<tspan font-style="italic">n</tspan> = 289; 31%)</text>
<text x="312.3" y="421.3" font-size="6.1" text-anchor="middle" fill="#4f3c05" textLength="31.7" lengthAdjust="spacingAndGlyphs">Intermediate</text>
<text x="312.3" y="429.0" font-size="6.1" text-anchor="middle" fill="#4f3c05" textLength="41.6" lengthAdjust="spacingAndGlyphs">(<tspan font-style="italic">n</tspan> = 531; 56%)</text>
<text x="312.7" y="521.0" font-size="6.1" text-anchor="middle" fill="#fff" textLength="11.6" lengthAdjust="spacingAndGlyphs">Poor</text>
<text x="312.7" y="528.4" font-size="6.1" text-anchor="middle" fill="#fff" textLength="40.8" lengthAdjust="spacingAndGlyphs">(<tspan font-style="italic">n</tspan> = 123; 13%)</text>
<text x="475.0" y="330.5" font-size="6.1" text-anchor="middle" fill="#fff" textLength="25.2" lengthAdjust="spacingAndGlyphs">Favorable</text>
<text x="474.9" y="337.4" font-size="6.1" text-anchor="middle" fill="#fff" textLength="26.3" lengthAdjust="spacingAndGlyphs">(<tspan font-style="italic">n</tspan> = 389;</text>
<text x="474.8" y="344.1" font-size="6.1" text-anchor="middle" fill="#fff" textLength="13.7" lengthAdjust="spacingAndGlyphs">41%)</text>
<text x="475.3" y="408.5" font-size="6.1" text-anchor="middle" fill="#4f3c05" textLength="31.7" lengthAdjust="spacingAndGlyphs">Intermediate</text>
<text x="475.3" y="415.1" font-size="6.1" text-anchor="middle" fill="#4f3c05" textLength="39.8" lengthAdjust="spacingAndGlyphs">(<tspan font-style="italic">n</tspan> = 197; 21%)</text>
<text x="475.2" y="479.4" font-size="6.1" text-anchor="middle" fill="#fff" textLength="11.6" lengthAdjust="spacingAndGlyphs">Poor</text>
<text x="475.2" y="486.9" font-size="6.1" text-anchor="middle" fill="#fff" textLength="41.3" lengthAdjust="spacingAndGlyphs">(<tspan font-style="italic">n</tspan> = 357; 38%)</text>
</svg>
<div class="frame"></div>
</body></html>
